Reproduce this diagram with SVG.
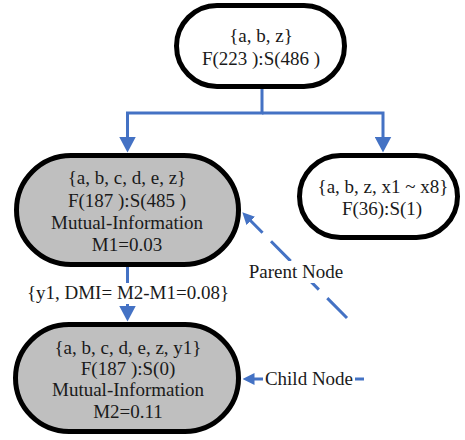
<svg xmlns="http://www.w3.org/2000/svg" width="465" height="440" viewBox="0 0 465 440">
<style>
  .node { stroke: #000; stroke-width: 5; }
  .plain { fill: #ffffff; }
  .gray { fill: #bfbfbf; }
  text { font-family: "Liberation Serif", "Times New Roman", serif; font-size: 19px; fill: #1a1a1a; text-anchor: middle; }
  .edge { fill: none; stroke: #4472c4; stroke-width: 3; }
  .dash { stroke-dasharray: 28 12; }
  .lblbg { fill: #ffffff; stroke: none; }
</style>
<defs>
  <marker id="arrowL" markerUnits="userSpaceOnUse" viewBox="0 0 16 17" markerWidth="16" markerHeight="17" refX="0.5" refY="8.5" orient="auto">
    <path d="M0,0 L16,8.5 L0,17 z" fill="#4472c4"/>
  </marker>
  <marker id="arrowS" markerUnits="userSpaceOnUse" viewBox="0 0 12 12" markerWidth="12" markerHeight="12" refX="0.5" refY="6" orient="auto">
    <path d="M0,0 L12,6 L0,12 z" fill="#4472c4"/>
  </marker>
</defs>

<g id="connectors">
  <path class="edge" d="M262,89 V113 H127.5 V137" marker-end="url(#arrowL)"/>
  <path class="edge" d="M262,113 H383 V137" marker-end="url(#arrowL)"/>
  <path class="edge" d="M127.5,266 V306" marker-end="url(#arrowL)"/>
  <path class="edge dash" d="M347,318 L250.4,220.5" marker-end="url(#arrowS)"/>
  <path class="edge" d="M364,379 L254,379" marker-end="url(#arrowS)"/>
  <g id="edge-label-dmi">
    <rect class="lblbg" x="26" y="283" width="204" height="21"/>
    <text x="128" y="299">{y1, DMI= M2-M1=0.08}</text>
  </g>
  <g id="edge-label-parent">
    <rect class="lblbg" x="247" y="261" width="98" height="22"/>
    <text x="296" y="278">Parent Node</text>
  </g>
  <g id="edge-label-child">
    <rect class="lblbg" x="263" y="367" width="92" height="22"/>
    <text x="309" y="385">Child Node</text>
  </g>
</g>

<g id="node-root">
  <rect class="node plain" x="176.5" y="5.5" width="168" height="81" rx="40.5" ry="40.5"/>
  <text x="261" y="42">{a, b, z}</text>
  <text x="261" y="65">F(223 ):S(486 )</text>
</g>

<g id="node-left">
  <rect class="node gray" x="16.5" y="155.5" width="222" height="109" rx="54.5" ry="54.5"/>
  <text x="127" y="184">{a, b, c, d, e, z}</text>
  <text x="127" y="207">F(187 ):S(485 )</text>
  <text x="127" y="229">Mutual-Information</text>
  <text x="127" y="251">M1=0.03</text>
</g>

<g id="node-right">
  <rect class="node plain" x="299.5" y="155.5" width="158" height="82" rx="41" ry="41"/>
  <text x="383" y="193">{a, b, z, x1 ~ x8}</text>
  <text x="382" y="215">F(36):S(1)</text>
</g>

<g id="node-child">
  <rect class="node gray" x="15.5" y="324.5" width="223" height="107" rx="53.5" ry="53.5"/>
  <text x="128" y="354">{a, b, c, d, e, z, y1}</text>
  <text x="128" y="375">F(187 ):S(0)</text>
  <text x="128" y="396">Mutual-Information</text>
  <text x="128" y="418">M2=0.11</text>
</g>
</svg>
